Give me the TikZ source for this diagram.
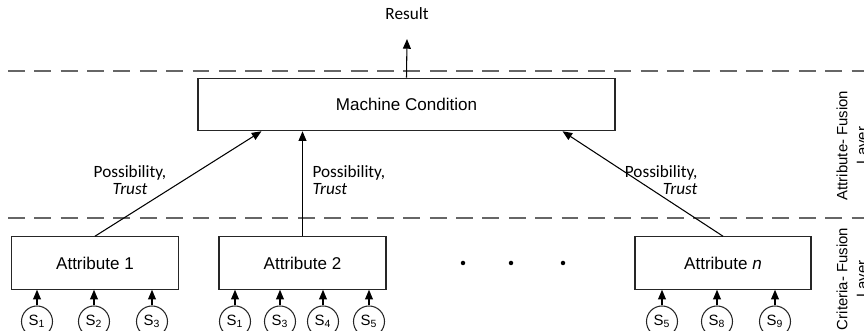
\documentclass[tikz,border=0pt]{standalone}
\usepackage{fontspec}
\setmainfont{Liberation Sans}
\newfontfamily\calfont{Carlito}
\usetikzlibrary{arrows.meta, positioning}

\begin{document}
\begin{tikzpicture}[>={Triangle[length=5.5pt,width=4.5pt]}, line width=0.6pt,
  box/.style={draw=black!85, rectangle, minimum height=1.05cm, inner sep=0pt, font=\fontsize{9.7}{11}\selectfont},
  sensor/.style={draw=black!85, circle, minimum size=0.62cm, inner sep=0pt, font=\fontsize{8.5}{10}\selectfont},
  lbl/.style={inner sep=0pt, font=\calfont\fontsize{9.8}{9.3}\selectfont},
  sidelabel/.style={rotate=90, align=center, inner sep=0pt, anchor=north, font=\fontsize{8.5}{11.3}\selectfont},
  layerline/.style={dash pattern=on 9.6pt off 5.4pt, draw=black!60, line width=0.8pt}]
  \useasboundingbox (0,0) rectangle (17.28,6.62);

  % layer borders
  \draw[layerline] (0.16,5.2) -- (17.28,5.2);
  \draw[layerline] (0.16,2.26) -- (17.28,2.26);
  \node[sidelabel] (afl) at (16.72,3.71) {Attribute- Fusion\\Layer};
  \node[sidelabel] (cfl) at (16.72,1.04) {Criteria- Fusion\\Layer};

  % attribute fusion
  \node[box, minimum width=8.34cm] (machine) at (8.13,4.53) {Machine Condition};
  \node[lbl] (result) at (8.14,6.34) {Result};
  \draw[->] (machine.north) -- ([yshift=-0.37cm]result.south);

  % criteria fusion
  \node[box, minimum width=3.34cm] (att1) at (1.9,1.36) {Attribute 1};
  \node[box, minimum width=3.34cm] (att2) at (6.05,1.36) {Attribute 2};
  \node[box, minimum width=3.52cm] (attn) at (14.46,1.36) {Attribute \textit{n}};
  \foreach \x in {9.26,10.22,11.26} {\fill (\x,1.36) circle (0.045);}

  \draw[->] (att1.north) -- ([xshift=1.28cm]machine.south west);
  \draw[->] (att2.north) -- (att2.north |- machine.south);
  \draw[->] (attn.north) -- ([xshift=-1.06cm]machine.south east);
  \node[lbl, align=center] (lbl1) at (2.6,3.02) {Possibility,\\\textit{Trust}};
  \node[lbl, align=left, anchor=west] (lbl2) at (6.24,3.02) {Possibility,\\\textit{Trust}};
  \node[lbl, align=right, anchor=east] (lbl3) at (13.96,3.02) {Possibility,\\\textit{Trust}};

  % sensors
  \foreach \x/\s [count=\i] in {0.74/1,1.88/2,3.04/3} {
    \node[sensor] (sa-\i) at (\x,0.19) {S\textsubscript{\s}};
    \draw[->] (sa-\i.north) -- (sa-\i.north |- att1.south);
  }
  \foreach \x/\s [count=\i] in {4.7/1,5.6/3,6.46/4,7.38/5} {
    \node[sensor] (sb-\i) at (\x,0.19) {S\textsubscript{\s}};
    \draw[->] (sb-\i.north) -- (sb-\i.north |- att2.south);
  }
  \foreach \x/\s [count=\i] in {13.24/5,14.34/8,15.5/9} {
    \node[sensor] (sn-\i) at (\x,0.19) {S\textsubscript{\s}};
    \draw[->] (sn-\i.north) -- (sn-\i.north |- attn.south);
  }
\end{tikzpicture}
\end{document}
